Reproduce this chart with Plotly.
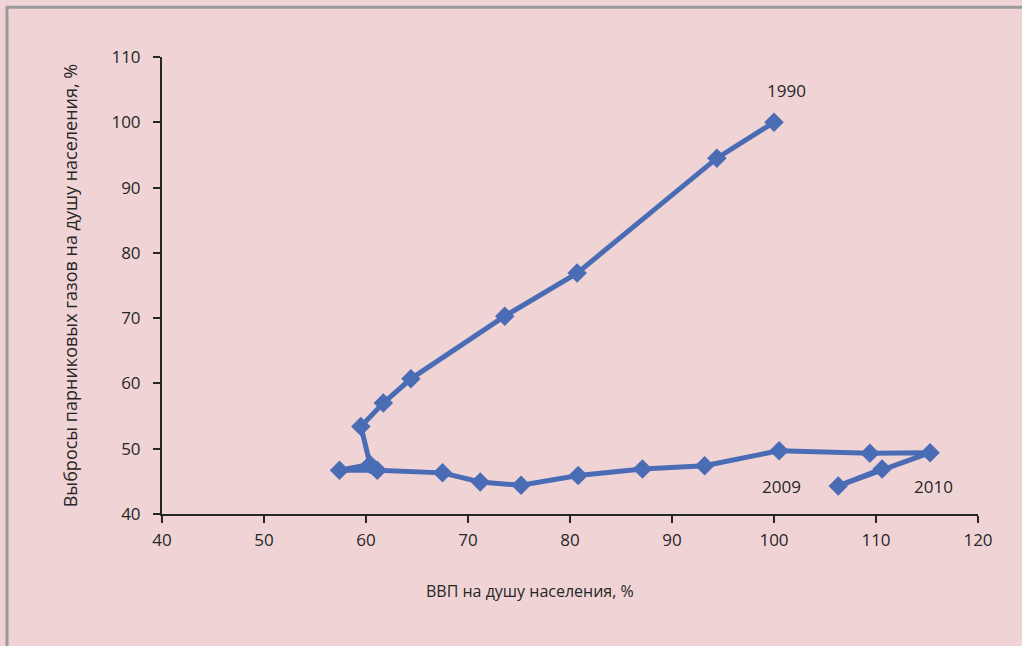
import plotly.graph_objects as go

years = list(range(1990, 2011))
gdp = [100.0, 94.4, 80.7, 73.6, 64.4, 61.7, 59.5, 60.4, 57.4, 61.1, 67.5,
       71.2, 75.2, 80.8, 87.1, 93.2, 100.5, 109.4, 115.3, 106.3, 110.6]
emis = [100.0, 94.5, 76.9, 70.3, 60.7, 57.0, 53.4, 47.6, 46.7, 46.7, 46.3,
        44.9, 44.4, 45.9, 46.9, 47.4, 49.7, 49.3, 49.4, 44.3, 46.9]

label_text = ["1990", "2009", "2010"]
label_x = [101.2, 100.7, 115.6]
label_y = [104.9, 44.2, 44.2]

x_title = "ВВП на душу населения, %"
y_title = "Выбросы парниковых газов на душу населения, %"

BG = "#F0D4D5"
BLUE = "#4A6CB5"
TXT = "#262626"
FONT = "Open Sans"

fig = go.Figure()
fig.add_trace(go.Scatter(
    x=gdp, y=emis, mode="lines+markers",
    line=dict(color=BLUE, width=5),
    marker=dict(symbol="diamond", size=15, color=BLUE),
    hoverinfo="skip", showlegend=False,
))

for t, xx, yy in zip(label_text, label_x, label_y):
    fig.add_annotation(x=xx, y=yy, text=t, showarrow=False,
                       font=dict(family=FONT, size=17, color=TXT))

fig.add_annotation(xref="paper", yref="paper", x=0.451, y=-0.1685,
                   xanchor="center", yanchor="middle",
                   text=x_title, showarrow=False,
                   font=dict(family=FONT, size=16, color=TXT))
fig.add_annotation(xref="paper", yref="paper", x=-0.113, y=0.5,
                   xanchor="center", yanchor="middle",
                   text=y_title, showarrow=False, textangle=-90,
                   font=dict(family=FONT, size=18, color=TXT))

fig.add_shape(type="rect", xref="paper", yref="paper",
              x0=-0.19, x1=1.3, y0=-0.6, y1=1.109,
              line=dict(color="#9A9A9A", width=3), fillcolor="rgba(0,0,0,0)",
              layer="below")

fig.update_layout(
    width=1022, height=646,
    margin=dict(l=162, r=44, t=57, b=132),
    paper_bgcolor=BG, plot_bgcolor=BG,
    font=dict(family=FONT, size=17, color=TXT),
    xaxis=dict(range=[40, 120], dtick=10, tick0=40, showgrid=False, zeroline=False,
               showline=True, linecolor=TXT, linewidth=2, ticks="outside",
               ticklen=7, tickwidth=2, tickcolor=TXT, ticklabelstandoff=3,
               tickfont=dict(family=FONT, size=17, color=TXT)),
    yaxis=dict(range=[40, 110], dtick=10, tick0=40, showgrid=False, zeroline=False,
               showline=True, linecolor=TXT, linewidth=2, ticks="outside",
               ticklen=7, tickwidth=2, tickcolor=TXT, ticklabelstandoff=9,
               tickfont=dict(family=FONT, size=17, color=TXT)),
)

fig.write_html(
    "out.html",
    config={"displayModeBar": False},
    post_script="document.body.style.margin='0';document.body.style.overflow='hidden';"
                "document.body.style.background='" + BG + "';",
)
